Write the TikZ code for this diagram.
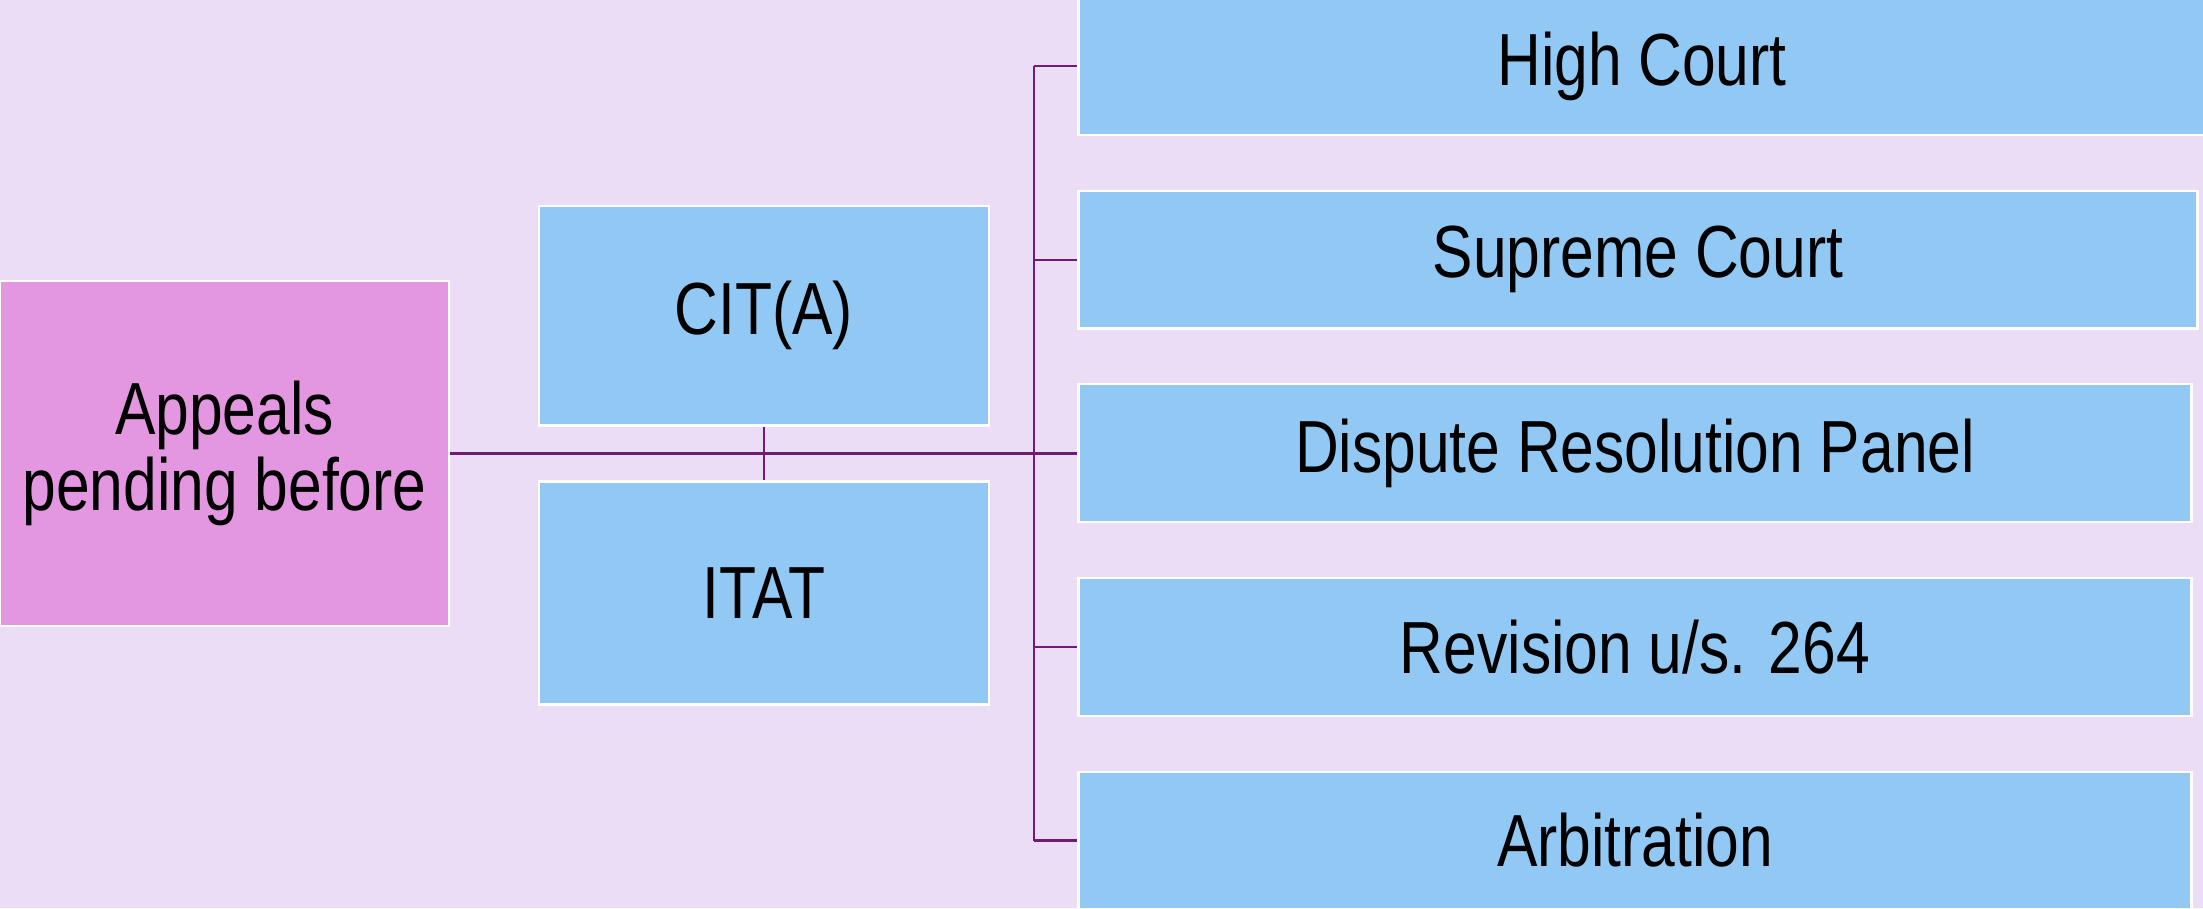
\documentclass[tikz,border=0pt]{standalone}
\usepackage{fontspec}
\setmainfont{Liberation Sans}[FakeStretch=0.82]
\definecolor{bgc}{HTML}{EBDDF6}
\definecolor{bluebox}{HTML}{92C8F4}
\definecolor{pinkbox}{HTML}{E397E1}
\definecolor{linec}{HTML}{701C70}
\tikzset{
  boxbase/.style={draw=white, line width=0.7pt, rectangle, inner sep=0pt, align=center,
    font=\fontsize{21}{21.6}\selectfont, text=black},
  bluebx/.style={boxbase, fill=bluebox},
  pinkbx/.style={boxbase, fill=pinkbox},
  conn/.style={draw=linec, line width=0.6pt}
}
\begin{document}
\begin{tikzpicture}[x=0.01cm, y=-0.01cm]
  \useasboundingbox (0,0) rectangle (2203,908);
  \fill[bgc] (0,0) rectangle (2203,908);
  % left box
  \node[pinkbx, minimum width=4.49cm, minimum height=3.45cm] (app) at (224.5,453.5) {Appeals\\pending before};
  % middle boxes
  \node[bluebx, minimum width=4.50cm, minimum height=2.195cm] (cit) at (764,315.8) {CIT(A)};
  \node[bluebx, minimum width=4.50cm, minimum height=2.23cm] (itat) at (764,593) {ITAT};
  % right boxes
  \node[bluebx, minimum width=11.36cm, minimum height=1.375cm] (hc) at (1647,66.3) {\hspace*{-0.1cm}High Court};
  \node[bluebx, minimum width=11.18cm, minimum height=1.375cm] (sc) at (1638,259.7) {Supreme Court};
  \node[bluebx, minimum width=11.12cm, minimum height=1.375cm] (drp) at (1635,453) {Dispute Resolution Panel};
  \node[bluebx, minimum width=11.12cm, minimum height=1.375cm] (rev) at (1635,647) {Revision u/s. 264};
  \node[bluebx, minimum width=11.12cm, minimum height=1.375cm] (arb) at (1635,840.5) {Arbitration};
  % connectors
  \coordinate (trunk) at (1034,453);
  \draw[conn] (app.east) -- (app.east -| drp.west);
  \draw[conn] (cit.south) -- (itat.north);
  \draw[conn] (hc.west -| trunk) -- (arb.west -| trunk);
  \foreach \b in {hc,sc,drp,rev,arb}{
    \draw[conn] (\b.west -| trunk) -- (\b.west);
  }
\end{tikzpicture}
\end{document}
